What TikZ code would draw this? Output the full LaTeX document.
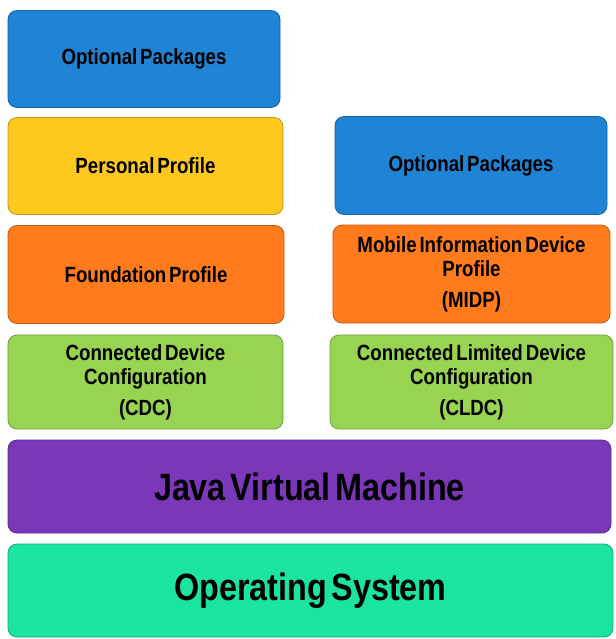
\documentclass[tikz,border=0pt]{standalone}
\usepackage{fontspec}
\setmainfont[FakeStretch=0.85,WordSpace=0.55]{Liberation Sans}

\definecolor{optblue}{HTML}{2084D6}
\definecolor{ppyellow}{HTML}{FFC81F}
\definecolor{fporange}{HTML}{FF7B1C}
\definecolor{cfggreen}{HTML}{98D452}
\definecolor{jvmpurple}{HTML}{7A38B9}
\definecolor{osteal}{HTML}{1BE3A1}

\begin{document}
\begin{tikzpicture}
    [x=1pt, y=-1pt,
    stack box/.style={rectangle, rounded corners=9pt, draw=#1!75!black, fill=#1,
      line width=0.8pt, inner sep=0pt, align=center,
      font=\bfseries\fontsize{22}{24}\selectfont},
    stack bar/.style={stack box=#1, font=\bfseries\fontsize{38}{42}\selectfont}]
  \useasboundingbox (0,0) rectangle (615,639);
  % left column
  \node (optl) [stack box=optblue, minimum width=272pt, minimum height=97pt]
    at (144,59) {Optional Packages};
  \node (pp) [stack box=ppyellow, minimum width=275pt, minimum height=97pt]
    at (145.5,166) {Personal Profile};
  \node (fp) [stack box=fporange, minimum width=276pt, minimum height=98pt]
    at (146,274.5) {Foundation Profile};
  \node (cdc) [stack box=cfggreen, minimum width=275pt, minimum height=94pt]
    at (145.5,382) {Connected Device\\Configuration\\[7pt](CDC)};
  % right column
  \node (optr) [stack box=optblue, minimum width=272pt, minimum height=98pt]
    at (471,165.5) {Optional Packages};
  \node (midp) [stack box=fporange, minimum width=277pt, minimum height=98pt]
    at (471.5,274) {Mobile Information Device\\Profile\\[7pt](MIDP)};
  \node (cldc) [stack box=cfggreen, minimum width=283pt, minimum height=94pt]
    at (471.5,382) {Connected Limited Device\\Configuration\\[7pt](CLDC)};
  % full width layers
  \node (jvm) [stack bar=jvmpurple, minimum width=603pt, minimum height=93pt]
    at (309.5,486.5) {Java Virtual Machine};
  \node (os) [stack bar=osteal, minimum width=605pt, minimum height=93pt]
    at (310.5,590.5) {Operating System};
\end{tikzpicture}
\end{document}
